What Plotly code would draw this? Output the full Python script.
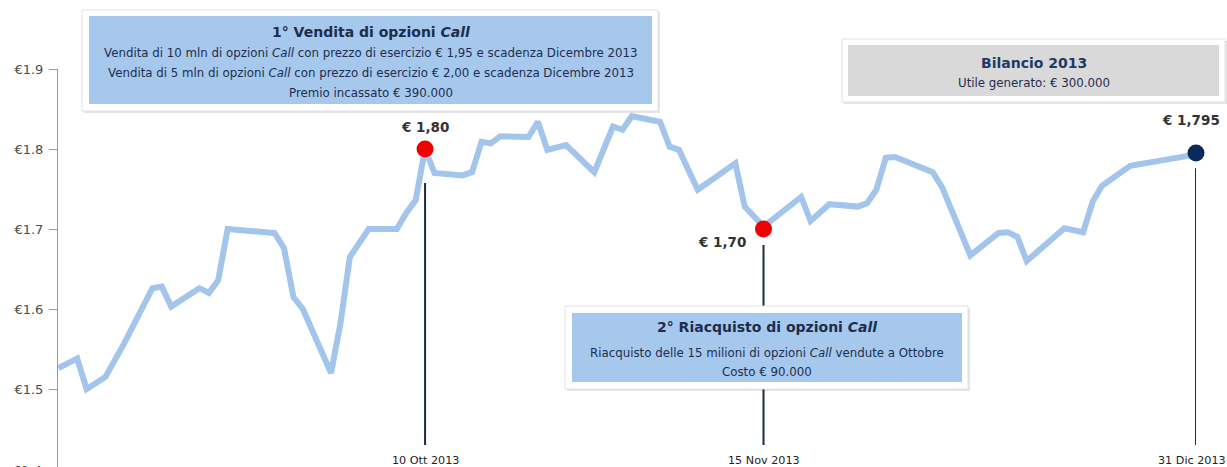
import plotly.graph_objects as go

# price series
dates = ["2013-09-01", "2013-09-03", "2013-09-04", "2013-09-06", "2013-09-08",
         "2013-09-11", "2013-09-12", "2013-09-13", "2013-09-16", "2013-09-17",
         "2013-09-18", "2013-09-19", "2013-09-24", "2013-09-25", "2013-09-26",
         "2013-09-27", "2013-09-30", "2013-10-01", "2013-10-02", "2013-10-04",
         "2013-10-07", "2013-10-08", "2013-10-09", "2013-10-10", "2013-10-11",
         "2013-10-14", "2013-10-15", "2013-10-16", "2013-10-17", "2013-10-18",
         "2013-10-21", "2013-10-22", "2013-10-23", "2013-10-25", "2013-10-28",
         "2013-10-30", "2013-10-31", "2013-11-01", "2013-11-04", "2013-11-05",
         "2013-11-06", "2013-11-08", "2013-11-12", "2013-11-13", "2013-11-15",
         "2013-11-19", "2013-11-20", "2013-11-22", "2013-11-25", "2013-11-26",
         "2013-11-27", "2013-11-28", "2013-11-29", "2013-12-03", "2013-12-04",
         "2013-12-07", "2013-12-10", "2013-12-11", "2013-12-12", "2013-12-13",
         "2013-12-17", "2013-12-19", "2013-12-20", "2013-12-21", "2013-12-24",
         "2013-12-30", "2013-12-31"]
prices = [1.526, 1.538, 1.500, 1.515, 1.557,
          1.626, 1.628, 1.603, 1.626, 1.620,
          1.636, 1.700, 1.695, 1.676, 1.615,
          1.600, 1.520, 1.582, 1.665, 1.700,
          1.700, 1.720, 1.736, 1.800, 1.770,
          1.767, 1.771, 1.809, 1.807, 1.816,
          1.815, 1.834, 1.799, 1.805, 1.771,
          1.828, 1.824, 1.841, 1.834, 1.803,
          1.799, 1.749, 1.782, 1.728, 1.703,
          1.740, 1.710, 1.731, 1.728, 1.732,
          1.749, 1.789, 1.790, 1.771, 1.752,
          1.667, 1.695, 1.696, 1.690, 1.660,
          1.701, 1.696, 1.734, 1.754, 1.779,
          1.791, 1.795]

# key events
event_dates = ["2013-10-10", "2013-11-15", "2013-12-31"]
event_prices = [1.80, 1.70, 1.795]
event_labels = ["€ 1,80", "€ 1,70", "€ 1,795"]
event_ticks = ["10 Ott 2013", "15 Nov 2013", "31 Dic 2013"]
event_colors = ["#f20000", "#f20000", "#0b2a5c"]

ytick_vals = [1.4, 1.5, 1.6, 1.7, 1.8, 1.9]
ytick_text = ["€1.4", "€1.5", "€1.6", "€1.7", "€1.8", "€1.9"]

W, H = 1227, 467
L, R, T, B = 58, 31, 69, 0
pw, ph = W - L - R, H - T - B


def px(x):
    return (x - L) / pw


def py(y):
    return (H - B - y) / ph


fig = go.Figure()

fig.add_trace(go.Scatter(
    x=dates, y=prices, mode="lines",
    line=dict(color="#a3c5eb", width=6),
    cliponaxis=False, hoverinfo="skip"
))

fig.add_trace(go.Scatter(
    x=event_dates, y=event_prices, mode="markers",
    marker=dict(color=event_colors, size=17, line=dict(width=0)),
    cliponaxis=False, hoverinfo="skip"
))

shapes = []
annotations = []

# stems below each event marker
stem_top = [1.7575, 1.68, 1.776]
for d, top in zip(event_dates, stem_top):
    shapes.append(dict(type="line", xref="x", yref="y", x0=d, x1=d,
                       y0=top, y1=1.43, line=dict(color="#1d2a3a", width=2),
                       layer="above"))

# price labels next to markers
label_shift = [(0, 22), (-42, -13), (-5, 33)]
for d, p, t, (dx, dy) in zip(event_dates, event_prices, event_labels, label_shift):
    annotations.append(dict(x=d, y=p, xref="x", yref="y", text="<b>" + t + "</b>",
                            showarrow=False, xshift=dx, yshift=dy, xanchor="center",
                            font=dict(family="DejaVu Sans", size=13.5, color="#333333")))

# date labels
date_shift = [0, 0, -4]
for d, t, dx in zip(event_dates, event_ticks, date_shift):
    annotations.append(dict(x=d, y=1.4105, xref="x", yref="y", text=t, showarrow=False,
                            xanchor="center", yanchor="middle", xshift=dx,
                            font=dict(family="DejaVu Sans", size=11.2, color="#222222")))

# partially visible bottom tick label
annotations.append(dict(x=px(44), y=py(470), xref="paper", yref="paper", text="€1.4",
                        showarrow=False, xanchor="right", yanchor="middle",
                        font=dict(family="DejaVu Sans", size=13, color="#4a4a4a")))


def add_box(outer, inner, fill, lines):
    x0, y0, x1, y1 = outer
    shapes.append(dict(type="rect", xref="paper", yref="paper",
                       x0=px(x0 + 2), x1=px(x1 + 2), y0=py(y1 + 2), y1=py(y0 + 2),
                       fillcolor="rgba(0,0,0,0.10)", line=dict(width=0), layer="above"))
    shapes.append(dict(type="rect", xref="paper", yref="paper",
                       x0=px(x0), x1=px(x1), y0=py(y1), y1=py(y0),
                       fillcolor="white", line=dict(color="#e2e2e2", width=1), layer="above"))
    ix0, iy0, ix1, iy1 = inner
    shapes.append(dict(type="rect", xref="paper", yref="paper",
                       x0=px(ix0), x1=px(ix1), y0=py(iy1), y1=py(iy0),
                       fillcolor=fill, line=dict(width=0), layer="above"))
    cx = (ix0 + ix1) / 2
    for text, yy, size, fam, col in lines:
        annotations.append(dict(x=px(cx), y=py(yy), xref="paper", yref="paper",
                                text=text, showarrow=False,
                                xanchor="center", yanchor="middle",
                                font=dict(family=fam, size=size, color=col)))


title_col = "#1c2d4e"
body_col = "#1c2d4e"
TS, BS = 14, 11.8
add_box((82, 10, 658, 111), (89, 16, 652, 104), "#a6c8ed", [
    ("<b>1° Vendita di opzioni <i>Call</i></b>", 32, TS, "DejaVu Sans", title_col),
    ("Vendita di 10 mln di opzioni <i>Call</i> con prezzo di esercizio € 1,95 e scadenza Dicembre 2013",
     53, BS, "DejaVu Sans", body_col),
    ("Vendita di 5 mln di opzioni <i>Call</i> con prezzo di esercizio € 2,00 e scadenza Dicembre 2013",
     73, BS, "DejaVu Sans", body_col),
    ("Premio incassato € 390.000", 93, BS, "DejaVu Sans", body_col),
])
add_box((565, 306, 968, 389), (572, 313, 962, 382), "#a6c8ed", [
    ("<b>2° Riacquisto di opzioni <i>Call</i></b>", 327, TS, "DejaVu Sans", title_col),
    ("Riacquisto delle 15 milioni di opzioni <i>Call</i> vendute a Ottobre",
     353, BS, "DejaVu Sans", body_col),
    ("Costo € 90.000", 372, BS, "DejaVu Sans", body_col),
])
add_box((842, 39, 1225, 102), (848, 45, 1219, 96), "#d9d9d9", [
    ("<b>Bilancio 2013</b>", 63, TS, "DejaVu Sans", "#1f3a68"),
    ("Utile generato: € 300.000", 83, BS, "DejaVu Sans", body_col),
])

fig.update_layout(
    width=W, height=H,
    margin=dict(l=L, r=R, t=T, b=B, pad=0),
    plot_bgcolor="white", paper_bgcolor="white",
    showlegend=False,
    xaxis=dict(range=["2013-08-31 23:00", "2013-12-31"], visible=False, fixedrange=True),
    yaxis=dict(range=[1.9 - ph / 800, 1.9], tickvals=ytick_vals, ticktext=ytick_text,
               showgrid=False, zeroline=False, showline=True, linecolor="#9a9a9a",
               linewidth=1, ticks="outside", ticklen=8, tickcolor="#9a9a9a",
               ticklabelstandoff=3,
               tickfont=dict(family="DejaVu Sans", size=13, color="#4a4a4a"),
               fixedrange=True),
    shapes=shapes,
    annotations=annotations,
)

fig.write_html("out.html", config={"displayModeBar": False},
               post_script="document.body.style.margin='0';")
